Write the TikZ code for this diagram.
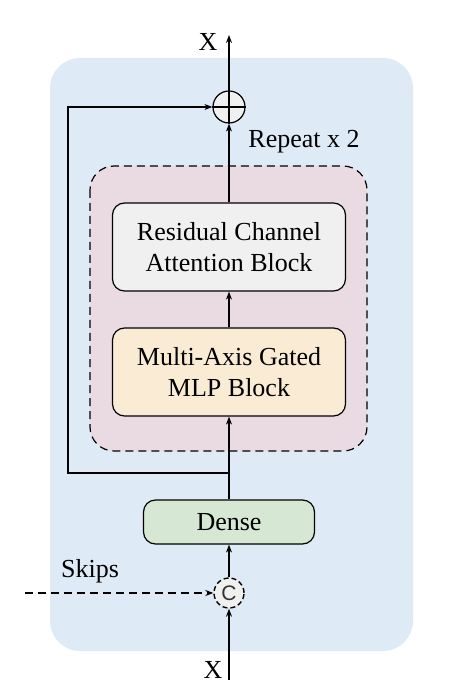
\documentclass[tikz,border=0pt]{standalone}
\usepackage{fontspec}
\setmainfont{Liberation Serif}
\newfontfamily\csans{Liberation Sans}
\usetikzlibrary{arrows.meta}
\definecolor{bgblue}{RGB}{222,235,247}
\definecolor{bgpink}{RGB}{234,218,226}
\definecolor{boxgray}{RGB}{240,240,240}
\definecolor{boxorange}{RGB}{250,235,212}
\definecolor{boxgreen}{RGB}{214,232,212}
\tikzset{
  block/.style={draw, rounded corners=6pt, fill=boxgray, minimum width=116.5pt, minimum height=44pt, align=center, font=\fontsize{13}{15.5}\selectfont, line width=0.6pt},
  op/.style={draw, circle, fill=boxgray, minimum size=16pt, inner sep=0pt, line width=0.6pt},
  flow/.style={-{Stealth[length=4pt,width=3pt]}, line width=0.6pt},
  lbl/.style={font=\fontsize{13}{15.5}\selectfont, inner sep=0pt},
}
\begin{document}
\begin{tikzpicture}[x=0.5pt, y=-0.5pt]
    \useasboundingbox (0,0) rectangle (471,694);
    % background panels
    \fill[bgblue, rounded corners=15pt] (50,58) rectangle (413,651);
    \draw[dash pattern=on 4pt off 2.5pt, fill=bgpink, rounded corners=12pt, line width=0.6pt] (90,166) rectangle (367,451);
    % blocks
    \node[block] (rcab) at (229,247) {Residual Channel\\Attention Block};
    \node[block, fill=boxorange] (mlp) at (229,372) {Multi-Axis Gated\\MLP Block};
    \node[block, fill=boxgreen, minimum width=85.5pt, minimum height=22pt] (dense) at (229,522) {Dense};
    \node[op] (add) at (229,107) {};
    \draw[line width=0.6pt] (add.north) -- (add.south) (add.west) -- (add.east);
    \node[op, dash pattern=on 2.5pt off 1.5pt, line width=0.7pt, minimum size=15pt, font=\csans\fontsize{10.5}{10.5}\selectfont, text=black!80] (cat) at (229,593) {C};
    % labels
    \node[lbl] (xout) at (208,42) {X};
    \node[lbl] (xin) at (213,670) {X};
    \node[lbl] (skips) at (90,571) {Skips};
    \node[lbl] (rep) at (304,142) {Repeat x 2};
    \coordinate (out) at (229,35);
    \coordinate (in) at (229,680);
    \coordinate (skip) at (25,593);
    \coordinate (split) at (229,473);
    \coordinate (corner) at (68,107);
    % connectors
    \draw[flow] (in) -- (cat);
    \draw[flow, dash pattern=on 4pt off 2.5pt] (skip) -- (cat);
    \draw[flow] (cat) -- (dense);
    \draw[flow] (dense) -- (mlp);
    \draw[flow] (mlp) -- (rcab);
    \draw[flow] (rcab) -- (add);
    \draw[flow] (add) -- (out);
    \draw[flow] (split) -| (corner) -- (add);
\end{tikzpicture}
\end{document}
